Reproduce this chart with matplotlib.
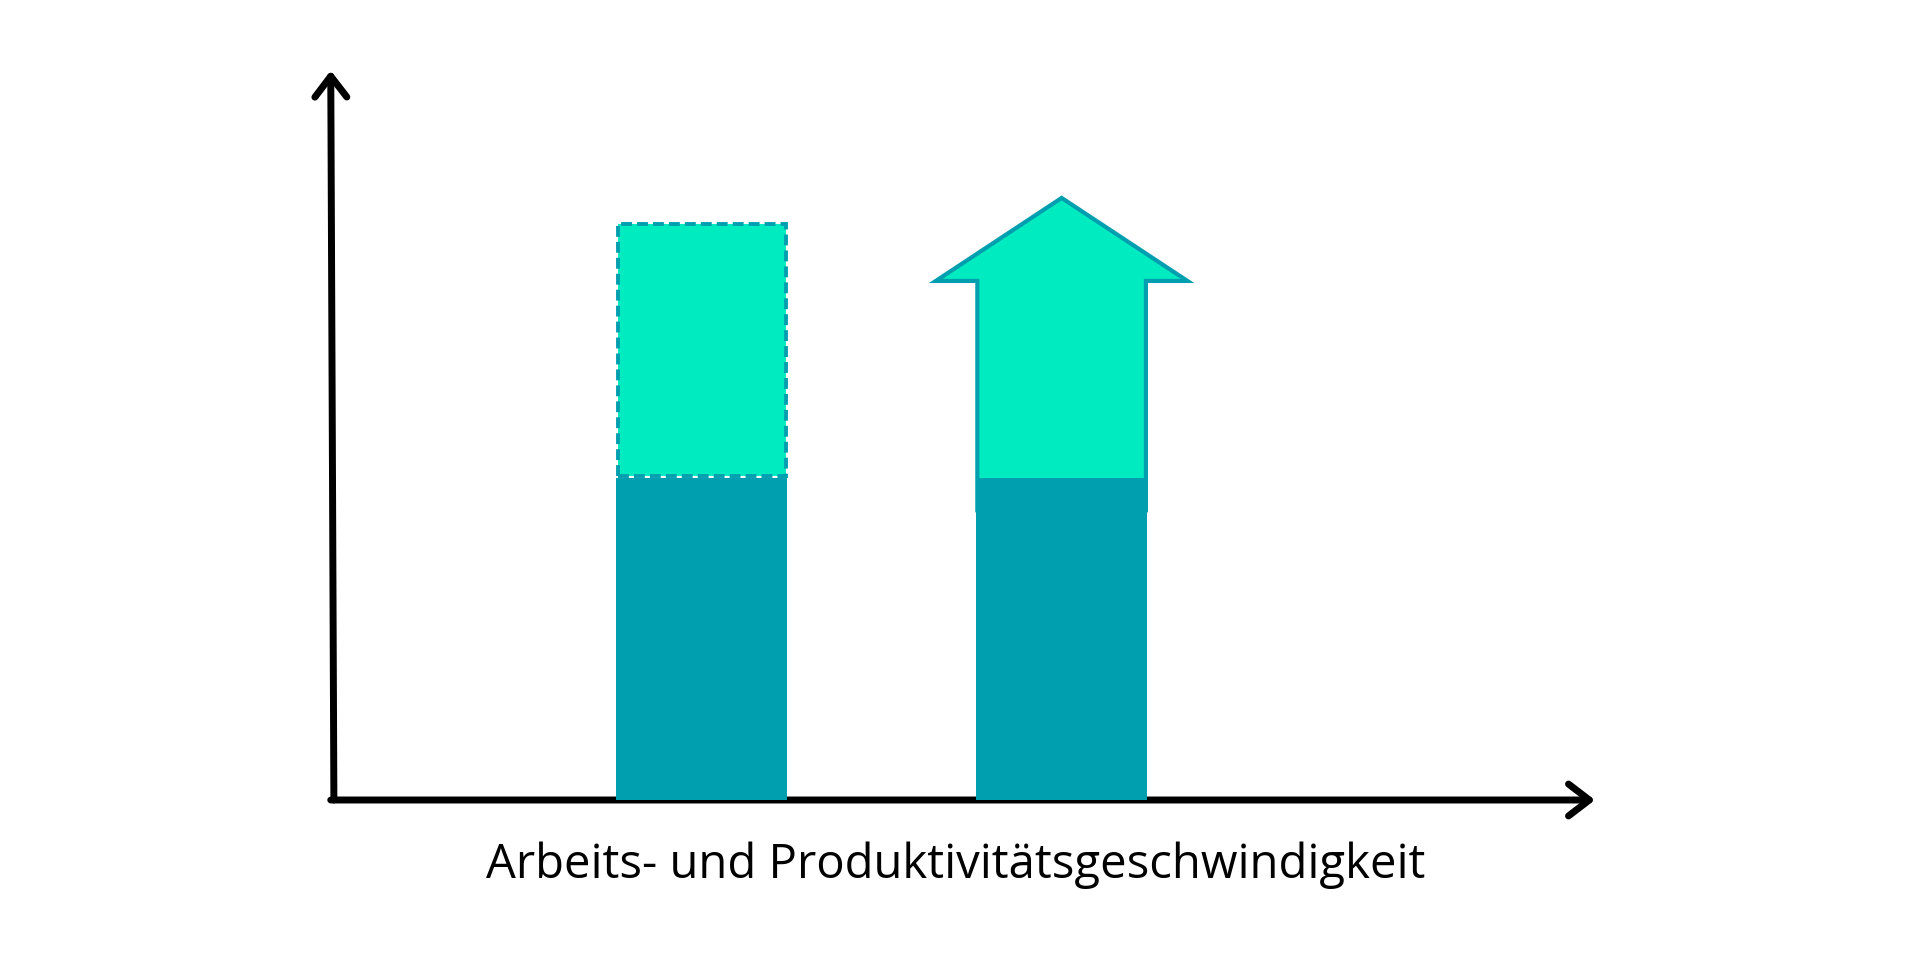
"""Schematic: work speed vs. productivity speed, two stacked bars, one with growth arrow."""

import matplotlib
matplotlib.use("Agg")
import matplotlib.pyplot as plt
from matplotlib.patches import Rectangle

TEAL = "#009fb0"
MINT = "#00ecc0"

# data (axis units 0..100 on both axes)
positions = [29.4, 58.0]          # bar centres on the x axis
base = [44.2, 44.2]               # solid teal part
potential = [34.6, 0.0]           # dashed "missing" part on top of bar 1
bar_width = 13.6
arrow_bottom = 39.8               # growth arrow of bar 2
arrow_head_base = 71.3
arrow_tip = 82.7
arrow_head_width = 20.0
xlabel = "Arbeits- und Produktivitätsgeschwindigkeit"

fig = plt.figure(figsize=(19.2, 9.6), dpi=100)
ax = fig.add_axes([332 / 1920, 160 / 960, 1258 / 1920, 728 / 960])
ax.set_xlim(0, 100)
ax.set_ylim(0, 100)
ax.axis("off")

# axes drawn as arrows
arrow_kw = dict(arrowstyle="->,head_length=1.5,head_width=1.15", lw=5.0,
                color="black", capstyle="round", joinstyle="round",
                mutation_scale=10, shrinkA=0, shrinkB=0)
ax.annotate("", xy=(-0.001, 1.002), xytext=(0.0015, 0.0), xycoords="axes fraction",
            arrowprops=arrow_kw, annotation_clip=False)
ax.annotate("", xy=(1.004, 0.0), xytext=(-0.001, 0.0), xycoords="axes fraction",
            arrowprops=arrow_kw, annotation_clip=False)

# growth arrow behind bar 2
cx = positions[1]
hw = bar_width / 2 - 0.1
ahw = arrow_head_width / 2
ax.fill([cx - hw, cx - hw, cx - ahw, cx, cx + ahw, cx + hw, cx + hw],
        [arrow_bottom, arrow_head_base, arrow_head_base, arrow_tip,
         arrow_head_base, arrow_head_base, arrow_bottom],
        facecolor=MINT, edgecolor=TEAL, lw=3.0, joinstyle="miter", zorder=1)

# solid bars
ax.bar(positions, base, width=bar_width, color=TEAL, zorder=3)

# dashed potential box on bar 1
for x, b, p in zip(positions, base, potential):
    if p > 0:
        ax.add_patch(Rectangle((x - bar_width / 2 + 0.1, b + 0.3), bar_width - 0.2, p,
                               facecolor=MINT, edgecolor=TEAL, lw=2.8,
                               linestyle=(0, (2.8, 1.3)), zorder=2))

fig.text((332 + 1590) / 2 / 1920 - 0.003, 1 - 865 / 960, xlabel, ha="center", va="center",
         fontsize=34, family=["Open Sans", "DejaVu Sans"])

fig.savefig("out.png", dpi=100)
